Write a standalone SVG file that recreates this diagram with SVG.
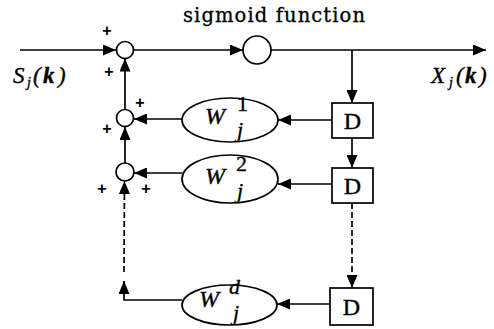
<svg xmlns="http://www.w3.org/2000/svg" width="494" height="329" viewBox="0 0 494 329">
<defs>
<marker id="ah" markerUnits="userSpaceOnUse" markerWidth="13" markerHeight="11" viewBox="0 0 13 11" refX="13" refY="5.5" orient="auto">
<path d="M0,0 L13,5.5 L0,11 z" fill="#000"/>
</marker>
<style>
.ln{stroke:#000;stroke-width:1.7;fill:none}
.dash{stroke-dasharray:6 3}
.sh{stroke:#000;stroke-width:1.7;fill:#fff}
.t{font-family:"Liberation Serif","Times New Roman",serif;fill:#000;stroke:#000;stroke-width:0.35}
.ct{font-family:"DejaVu Serif","Liberation Serif",serif;fill:#000;stroke:#000;stroke-width:0.3}
.it{font-style:italic}
.pl{font-family:"Liberation Sans",Arial,sans-serif;font-size:16px;font-weight:bold;text-anchor:middle;dominant-baseline:central}
</style>
</defs>
<rect width="494" height="329" fill="#fff"/>
<g id="connectors">
<line class="ln" x1="20" y1="50" x2="116" y2="50" marker-end="url(#ah)"/>
<line class="ln" x1="134" y1="50" x2="243" y2="50" marker-end="url(#ah)"/>
<line class="ln" x1="271" y1="50" x2="486" y2="50" marker-end="url(#ah)"/>
<line class="ln" x1="352" y1="50" x2="352" y2="103" marker-end="url(#ah)"/>
<line class="ln" x1="352" y1="138" x2="352" y2="168" marker-end="url(#ah)"/>
<line class="ln dash" x1="352" y1="203" x2="352" y2="288" marker-end="url(#ah)"/>
<line class="ln" x1="332" y1="120" x2="278" y2="120" marker-end="url(#ah)"/>
<line class="ln" x1="332" y1="184" x2="278" y2="184" marker-end="url(#ah)"/>
<line class="ln" x1="330" y1="304" x2="277" y2="304" marker-end="url(#ah)"/>
<line class="ln" x1="182" y1="119" x2="134" y2="119" marker-end="url(#ah)"/>
<line class="ln" x1="182" y1="173" x2="134" y2="173" marker-end="url(#ah)"/>
<line class="ln" x1="125" y1="109" x2="125" y2="58.5" marker-end="url(#ah)"/>
<line class="ln" x1="125" y1="163" x2="125" y2="127" marker-end="url(#ah)"/>
<path class="ln" d="M182,300 L124,300 L124,281" marker-end="url(#ah)"/>
<line class="ln dash" x1="124" y1="272" x2="124.5" y2="181" marker-end="url(#ah)"/>
</g>
<g id="sum1"><circle class="sh" cx="125" cy="50" r="8.5"/></g>
<g id="sum2"><circle class="sh" cx="125" cy="118" r="8.5"/></g>
<g id="sum3"><circle class="sh" cx="125" cy="172" r="9"/></g>
<g id="sigmoid">
<circle class="sh" cx="257" cy="50" r="14"/>
<text class="ct" x="183" y="22" font-size="19.5" textLength="182" lengthAdjust="spacing">sigmoid function</text>
</g>
<g id="D1"><rect class="sh" x="332" y="103" width="41" height="35"/><text class="t" x="352.5" y="129" font-size="24" text-anchor="middle">D</text></g>
<g id="D2"><rect class="sh" x="332" y="168" width="41" height="35"/><text class="t" x="352.5" y="194" font-size="24" text-anchor="middle">D</text></g>
<g id="D3"><rect class="sh" x="330" y="288" width="43" height="37"/><text class="t" x="351.5" y="315" font-size="24" text-anchor="middle">D</text></g>
<g id="W1">
<ellipse class="sh" cx="230" cy="120" rx="48" ry="22"/>
<text class="t it" x="205" y="124" font-size="24">W</text>
<text class="t" x="237" y="111" font-size="22">1</text>
<text class="t it" x="237" y="137" font-size="22">j</text>
</g>
<g id="W2">
<ellipse class="sh" cx="230" cy="179" rx="48" ry="24"/>
<text class="t it" x="205" y="184" font-size="24">W</text>
<text class="t" x="236" y="171" font-size="22">2</text>
<text class="t it" x="237" y="198" font-size="22">j</text>
</g>
<g id="Wd">
<ellipse class="sh" cx="229.5" cy="305" rx="47.5" ry="20"/>
<text class="t it" x="199" y="307" font-size="24">W</text>
<text class="t it" x="229" y="294" font-size="22">d</text>
<text class="t it" x="233" y="320" font-size="22">j</text>
</g>
<g id="labels">
<text class="t it" y="83" font-size="23"><tspan x="13">S</tspan><tspan x="27" y="87" font-size="14">j</tspan><tspan x="33" y="83">(</tspan><tspan x="43" font-weight="bold">k</tspan><tspan x="58">)</tspan></text>
<text class="t it" y="83" font-size="23"><tspan x="431">X</tspan><tspan x="449" y="87" font-size="14">j</tspan><tspan x="456" y="83">(</tspan><tspan x="465" font-weight="bold">k</tspan><tspan x="479">)</tspan></text>
<text class="pl" x="107" y="30">+</text>
<text class="pl" x="109" y="71">+</text>
<text class="pl" x="140" y="102">+</text>
<text class="pl" x="107" y="128">+</text>
<text class="pl" x="102" y="188">+</text>
<text class="pl" x="146" y="188">+</text>
</g>
</svg>
